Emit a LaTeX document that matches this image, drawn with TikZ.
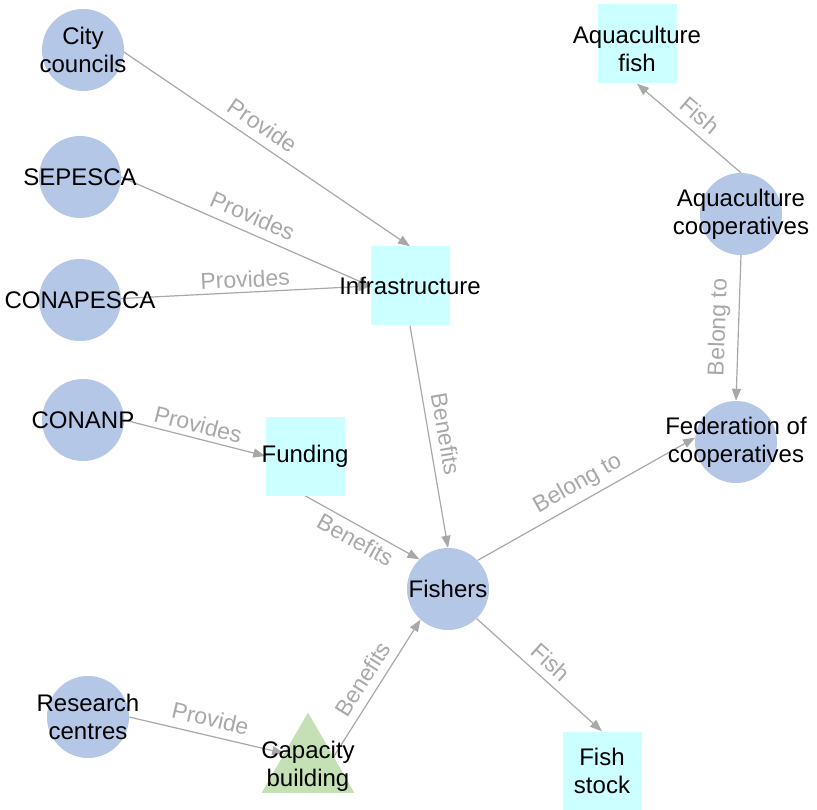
\documentclass[tikz,border=0pt]{standalone}
\usepackage{fontspec}
\setmainfont{Liberation Sans}
\usetikzlibrary{arrows.meta,shapes.geometric}
\pgfdeclarelayer{background}
\pgfsetlayers{background,main}
\definecolor{actorblue}{HTML}{B4C7E7}
\definecolor{thingcyan}{HTML}{CCFFFF}
\definecolor{taskgreen}{HTML}{C5E0B4}
\definecolor{linkgray}{HTML}{A8A8A8}
\begin{document}
\begin{tikzpicture}[x=1pt, y=-1pt,
        actor/.style={circle, fill=actorblue, minimum size=82pt, inner sep=0pt},
        thing/.style={rectangle, fill=thingcyan, minimum size=79pt, inner sep=0pt},
        task/.style={regular polygon, regular polygon sides=3, fill=taskgreen, minimum size=107pt, inner sep=0pt},
        every label/.style={align=center, font=\fontsize{24}{28}\selectfont, text=black},
        link/.style={draw=linkgray, line width=1.2pt, -{Triangle[length=12pt,width=9pt]}},
        rel/.style={sloped, above, text=linkgray, font=\fontsize{23}{26}\selectfont, inner sep=8pt}]
        \useasboundingbox (0, 0) rectangle (817, 810);
        \node [actor, label=center:{City\\councils}]            (city)      at (83, 50)   {};
        \node [actor, label=center:SEPESCA]                     (sepesca)   at (80, 177)  {};
        \node [actor, label=center:CONAPESCA]                   (conapesca) at (80, 300)  {};
        \node [actor, label=center:CONANP]                      (conanp)    at (83, 420)  {};
        \node [actor, label=center:{Research\\centres}]         (research)  at (88, 717)  {};
        \node [actor, label=center:Fishers]                     (fishers)   at (448, 589) {};
        \node [actor, label=center:{Aquaculture\\cooperatives}] (aqcoop)    at (741, 214) {};
        \node [actor, label=center:{Federation of\\cooperatives}] (fed)     at (736, 442) {};
        \node [thing, label=center:Infrastructure]              (infra)     at (410, 286) {};
        \node [thing, label=center:Funding]                     (funding)   at (305, 456) {};
        \node [thing, label=center:{Fish\\stock}]               (stock)     at (602, 771) {};
        \node [thing, label={[yshift=-5pt]center:{Aquaculture\\fish}}] (aqfish) at (637, 44) {};
        \node [task,  label=center:{Capacity\\building}]        (capacity)  at (308, 766) {};
        \begin{pgfonlayer}{background}
            \draw [link] (city.-3)      -- node [rel, pos=0.45] {Provide} (infra.north);
            \draw [link] (sepesca.east) -- node [rel] {Provides} (infra.west);
            \draw [link] (conapesca.2)  -- node [rel, inner sep=4pt] {Provides} (infra.west);
            \draw [link] (conanp.east)  -- node [rel, inner sep=5pt] {Provides} (funding.west);
            \draw [link] (infra.south)  -- node [rel] {Benefits} (fishers.north);
            \draw [link] (funding.south) -- node [rel, below, inner sep=5pt] {Benefits} (fishers.134);
            \draw [link] (capacity.20)  -- node [rel] {Benefits} (fishers.228);
            \draw [link] (research.east) -- node [rel] {Provide} (capacity.152);
            \draw [link] (fishers.-46)  -- node [rel] {Fish}      (stock.north);
            \draw [link] (fishers.44)   -- node [rel, inner sep=6pt] {Belong to} (fed.174);
            \draw [link] (aqcoop.north) -- node [rel] {Fish}      (aqfish.south);
            \draw [link] (aqcoop.south) -- node [rel] {Belong to} (fed.north);
        \end{pgfonlayer}
    \end{tikzpicture}
\end{document}
